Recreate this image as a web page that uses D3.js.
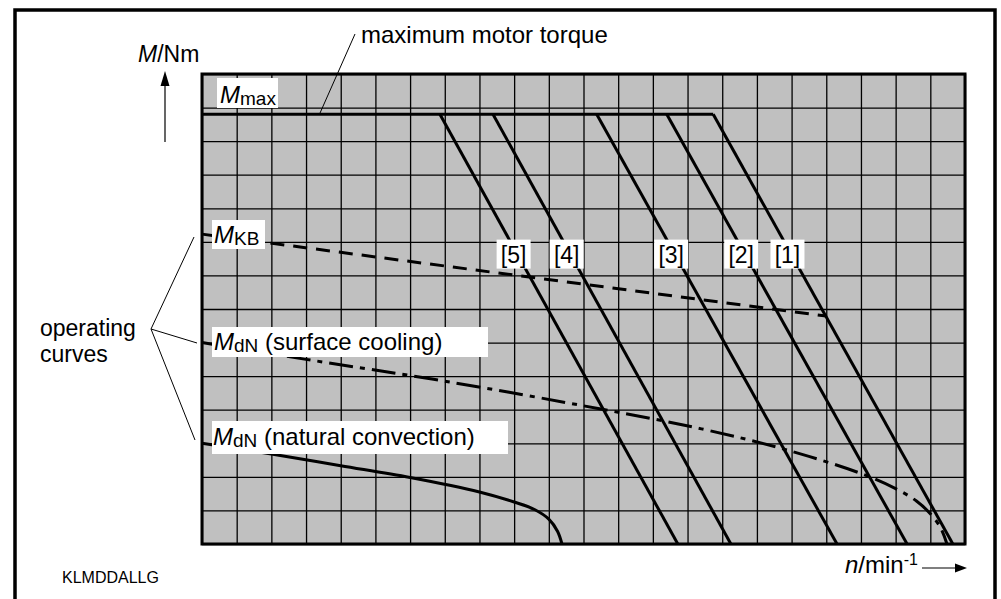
<!DOCTYPE html>
<html>
<head>
<meta charset="utf-8">
<style>
  body { margin: 0; background: #fff; }
  text { font-family: "Liberation Sans", Arial, Helvetica, sans-serif; fill: #000; }
</style>
</head>
<body>
<svg id="chart"></svg>
<script src="https://d3js.org/d3.v7.min.js"></script>
<script>
// chart size
var width = 1001;
var height = 599;
// plot box in px
var plot = { left: 202, right: 965, top: 74, bottom: 544 };

// grid: 22 columns (speed), 14 rows (torque)
var gridCols = d3.range(0, 23);
var gridRows = d3.range(0, 15);

// maximum motor torque (grid units)
var mMax = 12.8;

// speed limit curves [1]..[5]: start on Mmax line, end at M = 0
var curveIds = ["[1]", "[2]", "[3]", "[4]", "[5]"];
var curveStartN = [14.74, 13.40, 11.38, 8.39, 6.86];
var curveEndN = [21.65, 20.33, 18.31, 15.25, 13.72];

// M_KB (dashed)
var kbN = [0, 18.0];
var kbM = [9.23, 6.79];

// M_dN surface cooling (dash-dot)
var surfN = [0, 3, 7, 11.5, 14.4, 16.8, 19, 20, 20.6, 21.0, 21.3, 21.48];
var surfM = [6.0, 5.5, 4.85, 4.02, 3.43, 2.82, 2.1, 1.65, 1.28, 0.9, 0.48, 0];

// M_dN natural convection (solid)
var natN = [0, 2, 4, 6, 8, 9, 9.6, 10.0, 10.25, 10.38];
var natM = [3.0, 2.68, 2.33, 1.98, 1.55, 1.25, 1.02, 0.74, 0.38, 0];

var svg = d3.select('#chart')
  .attr('width', width)
  .attr('height', height);

var xScale = d3.scaleLinear().domain([0, 22]).range([plot.left, plot.right]);
var yScale = d3.scaleLinear().domain([0, 14]).range([plot.bottom, plot.top]);

// outer frame
svg.append('rect')
  .attr('x', 15).attr('y', 10)
  .attr('width', 980).attr('height', 620)
  .attr('fill', 'none')
  .attr('stroke', '#000')
  .attr('stroke-width', 3.5);

// plot background
svg.append('rect')
  .attr('x', plot.left).attr('y', plot.top)
  .attr('width', plot.right - plot.left)
  .attr('height', plot.bottom - plot.top)
  .attr('fill', '#c0c0c0');

// grid through axes
var gx = svg.append('g')
  .attr('transform', 'translate(0,' + plot.bottom + ')')
  .call(d3.axisBottom(xScale).tickValues(gridCols).tickSize(-(plot.bottom - plot.top)).tickFormat(''));
var gy = svg.append('g')
  .attr('transform', 'translate(' + plot.left + ',0)')
  .call(d3.axisLeft(yScale).tickValues(gridRows).tickSize(-(plot.right - plot.left)).tickFormat(''));
[gx, gy].forEach(function(g) {
  g.select('.domain').remove();
  g.selectAll('line').attr('stroke', '#000').attr('stroke-width', 1.3);
});

var line = d3.line()
  .x(function(d) { return xScale(d[0]); })
  .y(function(d) { return yScale(d[1]); });
var smooth = d3.line()
  .x(function(d) { return xScale(d[0]); })
  .y(function(d) { return yScale(d[1]); })
  .curve(d3.curveCatmullRom.alpha(0.5));

// Mmax line
svg.append('path')
  .attr('d', line([[0, mMax], [curveStartN[0], mMax]]))
  .attr('fill', 'none').attr('stroke', '#000').attr('stroke-width', 3);

// speed limit curves
curveIds.forEach(function(id, i) {
  svg.append('path')
    .attr('d', line([[curveStartN[i], mMax], [curveEndN[i], 0]]))
    .attr('fill', 'none').attr('stroke', '#000').attr('stroke-width', 3);
});

// M_KB dashed
svg.append('path')
  .attr('d', line(d3.zip(kbN, kbM)))
  .attr('fill', 'none').attr('stroke', '#000').attr('stroke-width', 3)
  .attr('stroke-dasharray', '14,9');

// surface cooling dash-dot
svg.append('path')
  .attr('d', smooth(d3.zip(surfN, surfM)))
  .attr('fill', 'none').attr('stroke', '#000').attr('stroke-width', 3)
  .attr('stroke-dasharray', '24,7,5,7');

// natural convection
svg.append('path')
  .attr('d', smooth(d3.zip(natN, natM)))
  .attr('fill', 'none').attr('stroke', '#000').attr('stroke-width', 3);

// plot border
svg.append('rect')
  .attr('x', plot.left).attr('y', plot.top)
  .attr('width', plot.right - plot.left)
  .attr('height', plot.bottom - plot.top)
  .attr('fill', 'none')
  .attr('stroke', '#000')
  .attr('stroke-width', 3);

// label boxes with subscripted M
function mLabel(box, tx, ty, sub, rest) {
  svg.append('rect')
    .attr('x', box[0]).attr('y', box[1]).attr('width', box[2]).attr('height', box[3])
    .attr('fill', '#fff');
  var t = svg.append('text').attr('x', tx).attr('y', ty).attr('font-size', 24);
  t.append('tspan').attr('font-style', 'italic').text('M');
  t.append('tspan').attr('font-size', 19).attr('dy', 2).text(sub);
  if (rest) t.append('tspan').attr('dy', -2).text(rest);
}
mLabel([217, 78, 61, 30], 220, 103, 'max', null);
mLabel([212, 220, 53, 29], 214, 243, 'KB', null);
mLabel([212, 327, 276, 30], 214, 350, 'dN', ' (surface cooling)');
mLabel([212, 421, 296, 33], 213, 445, 'dN', ' (natural convection)');

// [1]..[5] labels sitting on their curves
var labelM = 8.62;
curveIds.forEach(function(id, i) {
  var f = (mMax - labelM) / mMax;
  var cx = xScale(curveStartN[i] + f * (curveEndN[i] - curveStartN[i])) - 4;
  var cy = yScale(labelM);
  svg.append('rect')
    .attr('x', cx - 17).attr('y', cy - 15).attr('width', 34).attr('height', 29)
    .attr('fill', '#fff');
  svg.append('text')
    .attr('x', cx).attr('y', cy + 8)
    .attr('text-anchor', 'middle')
    .attr('font-size', 23)
    .text(id);
});

// maximum motor torque label + leader
svg.append('text').attr('x', 361).attr('y', 43).attr('font-size', 24).text('maximum motor torque');
svg.append('line')
  .attr('x1', 355).attr('y1', 34)
  .attr('x2', xScale(3.4)).attr('y2', yScale(mMax) - 1)
  .attr('stroke', '#000').attr('stroke-width', 1);

// M/Nm axis title + arrow
var mt = svg.append('text').attr('x', 138).attr('y', 62).attr('font-size', 23);
mt.append('tspan').attr('font-style', 'italic').text('M');
mt.append('tspan').text('/Nm');
svg.append('line').attr('x1', 165).attr('y1', 84).attr('x2', 165).attr('y2', 142)
  .attr('stroke', '#000').attr('stroke-width', 1.2);
svg.append('path').attr('d', 'M165,71 L160.5,86 L169.5,86 Z').attr('fill', '#000');

// operating curves label + leaders
svg.append('text').attr('x', 40).attr('y', 336).attr('font-size', 23).text('operating');
svg.append('text').attr('x', 40).attr('y', 362).attr('font-size', 23).text('curves');
[[194, 237], [197, 343], [195, 440]].forEach(function(p) {
  svg.append('line')
    .attr('x1', 151).attr('y1', 329).attr('x2', p[0]).attr('y2', p[1])
    .attr('stroke', '#000').attr('stroke-width', 1);
});

// n/min-1 axis title + arrow
var nt = svg.append('text').attr('x', 845).attr('y', 573).attr('font-size', 24);
nt.append('tspan').attr('font-style', 'italic').text('n');
nt.append('tspan').text('/min');
nt.append('tspan').attr('font-size', 16).attr('dy', -8).text('-1');
svg.append('line').attr('x1', 922).attr('y1', 568).attr('x2', 958).attr('y2', 568)
  .attr('stroke', '#000').attr('stroke-width', 1.2);
svg.append('path').attr('d', 'M967,568 L955,563.5 L955,572.5 Z').attr('fill', '#000');

// drawing code
svg.append('text').attr('x', 62).attr('y', 583).attr('font-size', 16).text('KLMDDALLG');
</script>
</body>
</html>
